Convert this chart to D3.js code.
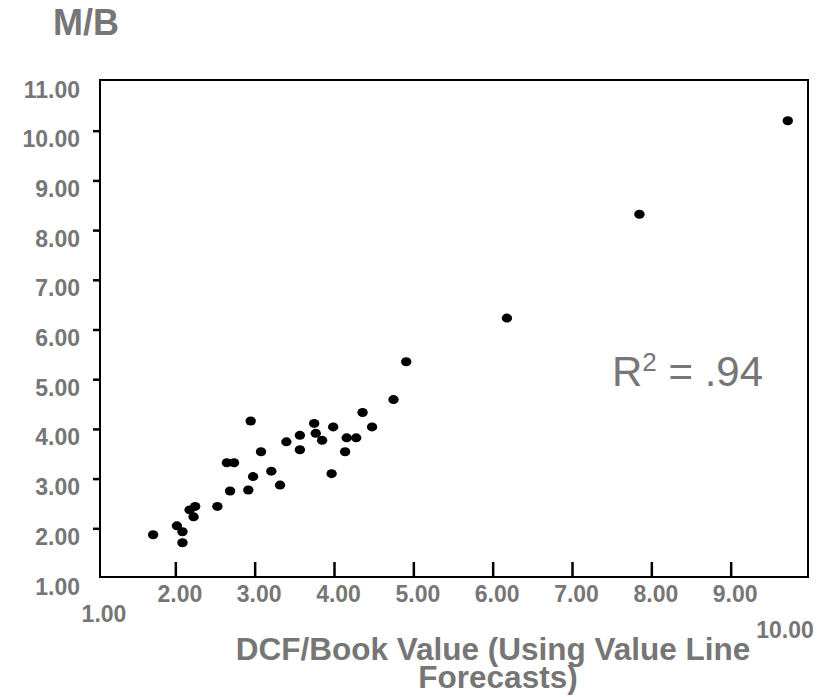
<!DOCTYPE html>
<html>
<head>
<meta charset="utf-8">
<script src="https://cdn.jsdelivr.net/npm/d3@7"></script>
<style>
	body { margin: 0; background: #fff; }
	text { font-family: "Liberation Sans", Arial, sans-serif; }
</style>
</head>
<body>
<svg id="chart" width="825" height="697"></svg>
<script>
// DCF/Book value (x) vs market-to-book (y)
var dcfBook = [1.72, 2.02, 2.09, 2.09, 2.18, 2.25, 2.23, 2.53, 2.65, 2.74, 2.69, 2.95,
	2.92, 2.98, 3.08, 3.21, 3.32, 3.40, 3.57, 3.57, 3.75, 3.77, 3.85, 3.97, 3.99,
	4.16, 4.14, 4.28, 4.36, 4.48, 4.75, 4.91, 6.18, 7.85, 9.72];
var marketBook = [1.87, 2.05, 1.93, 1.71, 2.37, 2.44, 2.23, 2.44, 3.32, 3.32, 2.75, 4.16,
	2.77, 3.04, 3.54, 3.15, 2.87, 3.74, 3.87, 3.58, 4.11, 3.91, 3.77, 3.10, 4.04,
	3.82, 3.54, 3.82, 4.33, 4.04, 4.59, 5.35, 6.23, 8.32, 10.20];
var xTicks = [2, 3, 4, 5, 6, 7, 8, 9];
var yTicks = [1, 2, 3, 4, 5, 6, 7, 8, 9, 10, 11];
var xTitle = ['DCF/Book Value (Using Value Line', 'Forecasts)'];
var yTitle = 'M/B';
var rSquared = '.94';

var grey = '#767676';
var svg = d3.select('#chart');
var box = {left: 100, right: 808, top: 80, bottom: 577};

var x = d3.scaleLinear().domain([1, 10]).range([96, 810]);
var y = d3.scaleLinear().domain([1, 11]).range([578, 81]);
var fmt = d3.format('.2f');

// frame
svg.append('rect')
	.attr('x', box.left)
	.attr('y', box.top)
	.attr('width', box.right - box.left)
	.attr('height', box.bottom - box.top)
	.attr('fill', 'none')
	.attr('stroke', '#000')
	.attr('stroke-width', 2);

// y axis, ticks point out, labels sit a bit below their tick
var yAxis = svg.append('g')
	.attr('transform', 'translate(' + box.left + ',0)')
	.call(d3.axisLeft(y).tickValues(yTicks).tickSize(7).tickFormat(fmt));
yAxis.select('.domain').remove();
yAxis.selectAll('.tick line')
	.attr('stroke', '#000')
	.attr('stroke-width', 2.5)
	.attr('display', function (d) { return (d === 1 || d === 11) ? 'none' : null; });
yAxis.selectAll('.tick text')
	.attr('x', -20)
	.attr('dy', null)
	.attr('y', 16)
	.attr('fill', grey)
	.style('font-size', '23px')
	.style('font-weight', 'bold');

// x axis, ticks point in
var xAxis = svg.append('g')
	.attr('transform', 'translate(0,' + box.bottom + ')')
	.call(d3.axisBottom(x).tickValues(xTicks).tickSizeInner(-15).tickSizeOuter(0).tickFormat(fmt));
xAxis.select('.domain').remove();
xAxis.selectAll('.tick line')
	.attr('stroke', '#000')
	.attr('stroke-width', 2.5);
xAxis.selectAll('.tick text')
	.attr('x', 4)
	.attr('dy', null)
	.attr('y', 25)
	.attr('fill', grey)
	.style('font-size', '23px')
	.style('font-weight', 'bold');

// the two end labels are dropped out of line in the original
var ends = [{v: 1, dx: 8, dy: 45}, {v: 10, dx: -25, dy: 61}];
svg.append('g').selectAll('text')
		.data(ends)
	.enter()
		.append('text')
		.attr('x', function (d) { return x(d.v) + d.dx; })
		.attr('y', function (d) { return box.bottom + d.dy; })
		.attr('text-anchor', 'middle')
		.attr('fill', grey)
		.style('font-size', '23px')
		.style('font-weight', 'bold')
		.text(function (d) { return fmt(d.v); });

// points
var points = dcfBook.map(function (v, i) { return {x: v, y: marketBook[i]}; });
svg.append('g').selectAll('ellipse')
		.data(points)
	.enter()
		.append('ellipse')
		.attr('cx', function (d) { return x(d.x); })
		.attr('cy', function (d) { return y(d.y); })
		.attr('rx', 5.2)
		.attr('ry', 4.5)
		.attr('fill', '#000');

// titles
svg.append('text')
	.attr('x', 53)
	.attr('y', 35)
	.attr('fill', grey)
	.style('font-size', '36px')
	.style('font-weight', 'bold')
	.text(yTitle);

svg.append('g').selectAll('text')
		.data(xTitle)
	.enter()
		.append('text')
		.attr('x', function (d, i) { return i === 0 ? 493 : 498; })
		.attr('y', function (d, i) { return 660 + i * 28; })
		.attr('text-anchor', 'middle')
		.attr('fill', grey)
		.style('font-size', '31.5px')
		.style('font-weight', 'bold')
		.text(function (d) { return d; });

// R squared note
var r2 = svg.append('text')
	.attr('x', 612)
	.attr('y', 386)
	.attr('fill', grey)
	.style('font-size', '42px');
r2.append('tspan').text('R');
r2.append('tspan').attr('dy', -15).style('font-size', '26px').text('2');
r2.append('tspan').attr('dy', 15).text(' = ' + rSquared);
</script>
</body>
</html>
